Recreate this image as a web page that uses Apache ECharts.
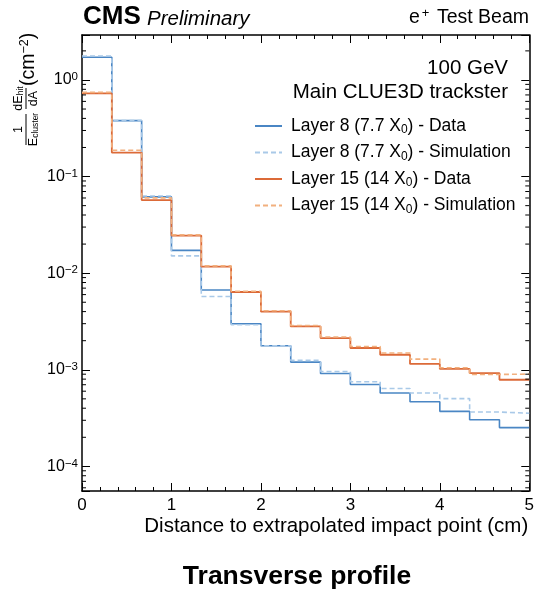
<!DOCTYPE html>
<html>
<head>
<meta charset="utf-8">
<script src="https://cdn.jsdelivr.net/npm/echarts@6/dist/echarts.min.js"></script>
<style>html,body{margin:0;padding:0;background:#fff}#c{width:537px;height:592px}</style>
</head>
<body>
<div id="c"></div>
<script>
// ---- data (15 bins of width 1/3 cm from 0 to 5 cm) ----
const binWidth = 1 / 3;
const nBins = 15;
const layer8Data = [1.72, 0.379, 0.0616, 0.0172, 0.0067, 0.00299, 0.00177, 0.00120, 0.000916, 0.000705, 0.000574, 0.000467, 0.000371, 0.000304, 0.000252];
const layer8Sim  = [1.77, 0.380, 0.0630, 0.0151, 0.00573, 0.00292, 0.00177, 0.00125, 0.000960, 0.000751, 0.000641, 0.000574, 0.000503, 0.000365, 0.000355];
const layer15Data = [0.725, 0.177, 0.0571, 0.0245, 0.0117, 0.00638, 0.00400, 0.00281, 0.00213, 0.00168, 0.00143, 0.00115, 0.00102, 0.000924, 0.000788];
const layer15Sim  = [0.743, 0.1875, 0.0602, 0.0249, 0.0119, 0.00649, 0.00408, 0.00287, 0.00218, 0.00174, 0.00149, 0.00129, 0.00105, 0.000894, 0.000903];
const seriesNames = ['Layer 8 (7.7 X0) - Data', 'Layer 8 (7.7 X0) - Simulation', 'Layer 15 (14 X0) - Data', 'Layer 15 (14 X0) - Simulation'];
const xMin = 0, xMax = 5;
const yMin = 5.56e-5, yMax = 2.92;

const FONT = '"Liberation Sans", Arial, Helvetica, sans-serif';

function stepPoints(vals) {
  const pts = vals.map((v, i) => [i * binWidth, v]);
  pts.push([nBins * binWidth, vals[vals.length - 1]]);
  return pts;
}

const minorVals = [];
for (let e = -5; e <= 0; e++) {
  for (let m = 2; m <= 9; m++) {
    const v = m * Math.pow(10, e);
    if (v > yMin && v < yMax) minorVals.push([0, v]);
  }
}

const cBlue = '#4a86c4', cBlueL = '#a9c9e8', cOr = '#dc6a38', cOrL = '#f2b07e';

function histSeries(name, vals, color, dashed, width) {
  return {
    name: name, type: 'line', step: 'end', data: stepPoints(vals),
    symbol: 'none', showSymbol: false, animation: false,
    lineStyle: { color: color, width: width, type: dashed ? [5, 3] : 'solid' },
    itemStyle: { color: color }
  };
}

const chart = echarts.init(document.getElementById('c'), null, { renderer: 'canvas' });
const axisLineStyle = { color: '#000', width: 1.5 };
const option = {
  animation: false,
  textStyle: { fontFamily: FONT },
  grid: { left: 82, right: 5, top: 35, bottom: 101, containLabel: false },
  xAxis: [{
    type: 'value', min: xMin, max: xMax, interval: 1, position: 'bottom',
    axisLine: { show: true, onZero: false, lineStyle: axisLineStyle },
    axisTick: { show: true, inside: true, length: 8, lineStyle: { color: '#000', width: 1 } },
    minorTick: { show: true, splitNumber: 5, length: 4, lineStyle: { color: '#000', width: 1 } },
    splitLine: { show: false }, minorSplitLine: { show: false },
    axisLabel: { color: '#000', fontSize: 17, fontFamily: FONT, margin: 6 },
    name: 'Distance to extrapolated impact point (cm)', nameLocation: 'end', nameGap: -1,
    nameTextStyle: { color: '#000', fontSize: 20.5, fontFamily: FONT, align: 'right', verticalAlign: 'top', padding: [25, 0, 0, 0] }
  }, {
    type: 'value', min: xMin, max: xMax, interval: 1, position: 'top',
    axisLine: { show: true, onZero: false, lineStyle: axisLineStyle },
    axisTick: { show: true, inside: true, length: 8, lineStyle: { color: '#000', width: 1 } },
    minorTick: { show: true, splitNumber: 5, length: 4, lineStyle: { color: '#000', width: 1 } },
    splitLine: { show: false }, axisLabel: { show: false }
  }],
  yAxis: [{
    type: 'log', logBase: 10, min: yMin, max: yMax, position: 'left',
    axisLine: { show: true, onZero: false, lineStyle: axisLineStyle },
    axisTick: { show: true, inside: true, length: 8, lineStyle: { color: '#000', width: 1 } },
    splitLine: { show: false },
    axisLabel: {
      color: '#000', margin: 4, fontFamily: FONT,
      formatter: function (v) {
        const e = Math.log10(v); const r = Math.round(e);
        if (Math.abs(e - r) > 1e-6) return '';
        return '{b|10}{s|' + (r < 0 ? '\u2212' + (-r) : r) + '}';
      },
      rich: {
        b: { fontSize: 16, color: '#000', fontFamily: FONT, lineHeight: 18 },
        s: { fontSize: 11.5, color: '#000', fontFamily: FONT, verticalAlign: 'top', lineHeight: 18, padding: [0, 0, 9, 0] }
      }
    }
  }, {
    type: 'log', logBase: 10, min: yMin, max: yMax, position: 'right',
    axisLine: { show: true, onZero: false, lineStyle: axisLineStyle },
    axisTick: { show: true, inside: true, length: 8, lineStyle: { color: '#000', width: 1 } },
    splitLine: { show: false }, axisLabel: { show: false }
  }],
  legend: {
    data: seriesNames, orient: 'vertical', left: 249, top: 112,
    itemWidth: 27, itemHeight: 14, itemGap: 7.5,
    itemStyle: { opacity: 0 },
    textStyle: { fontFamily: FONT, fontSize: 17.5, color: '#000', padding: [0, 0, 0, 4],
      rich: {
        n: { fontSize: 17.5, color: '#000', fontFamily: FONT },
        sub: { fontSize: 12, color: '#000', fontFamily: FONT, verticalAlign: 'bottom', padding: [8, 0, 0, 0] }
      } },
    formatter: function (name) {
      const parts = name.split('X0');
      return '{n|' + parts[0] + 'X}{sub|0}{n|' + parts[1] + '}';
    }
  },
  series: [
    histSeries(seriesNames[0], layer8Data, cBlue, false, 1.6),
    histSeries(seriesNames[1], layer8Sim, cBlueL, true, 1.6),
    histSeries(seriesNames[2], layer15Data, cOr, false, 1.8),
    histSeries(seriesNames[3], layer15Sim, cOrL, true, 1.6),
    {
      type: 'custom', name: 'minorTicks', data: minorVals, silent: true, z: 10,
      renderItem: function (params, api) {
        const p0 = api.coord([xMin, api.value(1)]);
        const p1 = api.coord([xMax, api.value(1)]);
        return { type: 'group', children: [
          { type: 'line', shape: { x1: p0[0], y1: p0[1], x2: p0[0] + 4, y2: p0[1] }, style: { stroke: '#000', lineWidth: 1 } },
          { type: 'line', shape: { x1: p1[0] - 4, y1: p1[1], x2: p1[0], y2: p1[1] }, style: { stroke: '#000', lineWidth: 1 } }
        ] };
      }
    }
  ],
  graphic: [
    { type: 'text', x: 83, y: 30, style: { text: 'CMS', font: 'bold 26px ' + FONT, fill: '#000', verticalAlign: 'bottom' } },
    { type: 'text', x: 147, y: 29, style: { text: 'Preliminary', font: 'italic 20.5px ' + FONT, fill: '#000', verticalAlign: 'bottom' } },
    { type: 'text', x: 529, y: 29, style: {
      text: '{a|e}{s|+}{a| Test Beam}', align: 'right', verticalAlign: 'bottom',
      rich: { a: { fontSize: 19.5, fontFamily: FONT, fill: '#000', lineHeight: 22 }, s: { fontSize: 13, fontFamily: FONT, fill: '#000', verticalAlign: 'top', lineHeight: 22, padding: [0, 2, 10, 2] } } } },
    { type: 'text', x: 508, y: 68, style: { text: '100 GeV', font: '20.5px ' + FONT, fill: '#000', align: 'right', verticalAlign: 'middle' } },
    { type: 'text', x: 508, y: 92, style: { text: 'Main CLUE3D trackster', font: '20.5px ' + FONT, fill: '#000', align: 'right', verticalAlign: 'middle' } },
    { type: 'text', x: 297, y: 577, style: { text: 'Transverse profile', font: 'bold 26.5px ' + FONT, fill: '#000', align: 'center', verticalAlign: 'middle' } },
    {
      type: 'group', x: 26, y: 146, rotation: Math.PI / 2,
      children: [
        { type: 'line', shape: { x1: 1, y1: 0, x2: 32, y2: 0 }, style: { stroke: '#000', lineWidth: 1 } },
        { type: 'text', x: 16.5, y: -1, style: { text: '1', font: '12.5px ' + FONT, fill: '#000', align: 'center', verticalAlign: 'bottom' } },
        { type: 'text', x: 16.5, y: 1, style: { text: '{a|E}{b|cluster}', align: 'center', verticalAlign: 'top',
          rich: { a: { fontSize: 12.5, fontFamily: FONT, fill: '#000', lineHeight: 13 }, b: { fontSize: 8.5, fontFamily: FONT, fill: '#000', verticalAlign: 'bottom', lineHeight: 13, padding: [5, 0, 0, 0] } } } },
        { type: 'line', shape: { x1: 37, y1: 0, x2: 58, y2: 0 }, style: { stroke: '#000', lineWidth: 1 } },
        { type: 'text', x: 47.5, y: -1, style: { text: '{a|dE}{b|hit}', align: 'center', verticalAlign: 'bottom',
          rich: { a: { fontSize: 12.5, fontFamily: FONT, fill: '#000', lineHeight: 13 }, b: { fontSize: 8.5, fontFamily: FONT, fill: '#000', verticalAlign: 'bottom', lineHeight: 13, padding: [5, 0, 0, 0] } } } },
        { type: 'text', x: 47.5, y: 1, style: { text: 'dA', font: '12.5px ' + FONT, fill: '#000', align: 'center', verticalAlign: 'top' } },
        { type: 'text', x: 60, y: 3, style: { text: '{a|(cm}{s|\u22122}{a|)}', align: 'left', verticalAlign: 'middle',
          rich: { a: { fontSize: 19.5, fontFamily: FONT, fill: '#000', lineHeight: 22 }, s: { fontSize: 12.5, fontFamily: FONT, fill: '#000', verticalAlign: 'top', lineHeight: 22, padding: [0, 0, 10, 0] } } } }
      ]
    }
  ]
};
chart.setOption(option);
</script>
</body>
</html>
